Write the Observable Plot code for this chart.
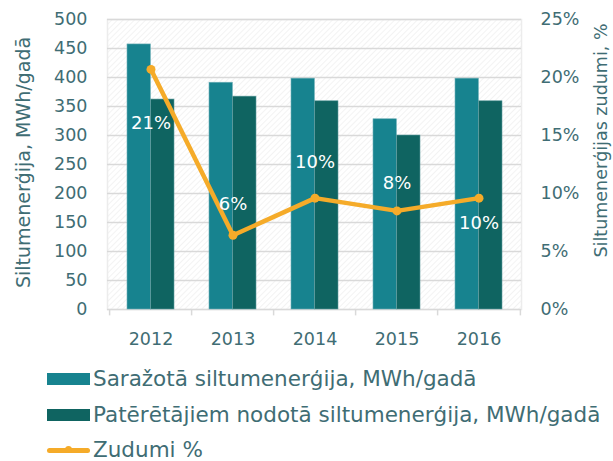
<!DOCTYPE html>
<html><head><meta charset="utf-8">
<script src="https://cdn.jsdelivr.net/npm/d3@7"></script>
<script src="https://cdn.jsdelivr.net/npm/@observablehq/plot@0.6"></script>
<style>
body{margin:0;background:#fff;font-family:"DejaVu Sans",sans-serif;}
#wrap{position:relative;width:613px;height:461px;overflow:hidden;}
.row{position:absolute;left:47px;height:18px;line-height:18px;display:flex;align-items:center;color:#3f6d74;font-size:21.5px;white-space:nowrap;}
.row span{line-height:1;}
.sw{width:43px;height:12px;margin-right:3px;flex:none;}
.ln{width:43px;height:12px;margin-right:3px;position:relative;flex:none;}
.ln:before{content:"";position:absolute;left:0;right:0;top:4px;height:5px;border-radius:3px;background:#f5ab29;}
.ln:after{content:"";position:absolute;left:18px;top:2px;width:7px;height:7px;border-radius:50%;background:#f5ab29;}
</style>
</head><body>
<div id="wrap"><div id="chart"></div>
 <div class="row" style="top:370px"><div class="sw" style="background:#17838f"></div><span id="l1"></span></div>
 <div class="row" style="top:406px"><div class="sw" style="background:#0f6461"></div><span id="l2"></span></div>
 <div class="row" style="top:441px"><div class="ln"></div><span id="l3"></span></div>
</div>
<script>
// ---- data ----
const years = ["2012", "2013", "2014", "2015", "2016"];
const produced = [457, 391, 398, 328, 398];      // Saražotā siltumenerģija, MWh/gadā
const delivered = [362, 367, 359, 300, 359];     // Patērētājiem nodotā siltumenerģija, MWh/gadā
const losses = [20.7, 6.4, 9.6, 8.5, 9.6];       // Zudumi %
const lossLabels = ["21%", "6%", "10%", "8%", "10%"];
const leftTicks = [0, 50, 100, 150, 200, 250, 300, 350, 400, 450, 500];
const rightTicks = [0, 5, 10, 15, 20, 25];
const seriesNames = ["Saražotā siltumenerģija, MWh/gadā", "Patērētājiem nodotā siltumenerģija, MWh/gadā", "Zudumi %"];
const leftTitle = "Siltumenerģija, MWh/gadā";
const rightTitle = "Siltumenerģijas zudumi, %";

// ---- layout ----
const W = 613, H = 358, ML = 107, MR = 92, MT = 19, MB = H - 309;
const step = (W - ML - MR) / years.length;
const bw = step * 0.57;
const ratio = 500 / 25; // right axis (percent) mapped onto left axis
const textColor = "#3f6d74";
const rows = years.map((y, i) => ({year: y, produced: produced[i], delivered: delivered[i], loss: losses[i], label: lossLabels[i]}));
const labelDy = [54, -31, -36, -28, 25];

const chart = Plot.plot({
  width: W, height: H, marginLeft: ML, marginRight: MR, marginTop: MT, marginBottom: MB,
  style: {fontFamily: "DejaVu Sans, sans-serif", fontSize: "17.5px", color: textColor, background: "transparent"},
  x: {domain: years, paddingInner: 0.43, paddingOuter: 0.215, axis: null},
  y: {domain: [0, 500], axis: null},
  marks: [
    Plot.frame({fill: "url(#hatch)", stroke: "#ececec", strokeWidth: 1.5}),
    Plot.ruleY(leftTicks, {stroke: "#d9d9d9", strokeWidth: 1.5}),
    Plot.ruleX(years, {x: d => d, dx: -step / 2, y1: 0, y2: -11, stroke: "#d9d9d9", strokeWidth: 1.5}),
    Plot.ruleX([years[years.length - 1]], {x: d => d, dx: step / 2, y1: 0, y2: -11, stroke: "#d9d9d9", strokeWidth: 1.5}),
    Plot.barY(rows, {x: "year", y: "produced", fill: "#17838f", stroke: "#6fb0b8", strokeWidth: 0.6, insetRight: bw / 2}),
    Plot.barY(rows, {x: "year", y: "delivered", fill: "#0f6461", stroke: "#5e9c9e", strokeWidth: 0.6, insetLeft: bw / 2}),
    Plot.line(rows, {x: "year", y: d => d.loss * ratio, stroke: "#f5ab29", strokeWidth: 4.5, strokeLinejoin: "round"}),
    Plot.dot(rows, {x: "year", y: d => d.loss * ratio, r: 4.5, fill: "#f5ab29"}),
    ...rows.map((d, i) => Plot.text([d], {x: "year", y: r => r.loss * ratio, text: "label", dy: labelDy[i], fill: "white", fontSize: 18})),
    Plot.axisY(leftTicks, {anchor: "left", tickSize: 0, tickPadding: 20, label: null}),
    Plot.axisY(rightTicks.map(t => t * ratio), {anchor: "right", tickSize: 0, tickPadding: 19, tickFormat: d => (d / ratio) + "%", label: null}),
    Plot.axisX({anchor: "bottom", tickSize: 0, tickPadding: 23, label: null}),
    Plot.text([leftTitle], {frameAnchor: "left", textAnchor: "middle", lineAnchor: "middle", rotate: -90, dx: -84, dy: -2, fontSize: 19, fill: textColor}),
    Plot.text([rightTitle], {frameAnchor: "right", textAnchor: "middle", lineAnchor: "middle", rotate: -90, dx: 80, dy: -24, fontSize: 17.5, fill: textColor})
  ]
});
// hatch pattern for plot background
const ns = "http://www.w3.org/2000/svg";
const defs = document.createElementNS(ns, "defs");
defs.innerHTML = '<pattern id="hatch" patternUnits="userSpaceOnUse" width="4" height="4" patternTransform="rotate(45)"><rect width="4" height="4" fill="#ffffff"/><line x1="0" y1="0" x2="0" y2="4" stroke="#ebebeb" stroke-width="1.2"/></pattern>';
chart.insertBefore(defs, chart.firstChild);
document.getElementById("chart").append(chart);
document.getElementById("l1").textContent = seriesNames[0];
document.getElementById("l2").textContent = seriesNames[1];
document.getElementById("l3").textContent = seriesNames[2];
</script>
</body></html>
